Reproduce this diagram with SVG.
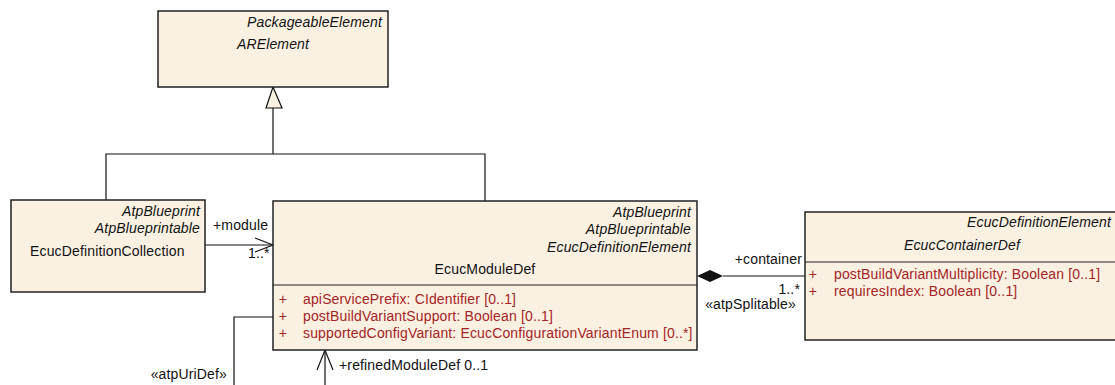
<svg xmlns="http://www.w3.org/2000/svg" width="1115" height="385" viewBox="0 0 1115 385">
<style>
.box{fill:#FBF1E3;stroke:#222;stroke-width:1.5}
.div{stroke:#222;stroke-width:1.2}
.ln{fill:none;stroke:#111;stroke-width:1.2}
text{font-family:"Liberation Sans",Arial,sans-serif;font-size:14px;fill:#111;letter-spacing:0.15px}
.it{font-style:italic}
.r{text-anchor:end}
.m{text-anchor:middle}
.attr{fill:#A52424}
</style>
<rect width="1115" height="385" fill="#fff"/>
<g id="connectors">
  <polyline class="ln" points="273,108 273,154"/>
  <polygon points="273,87 266,108 282,108" fill="#FBF1E3" stroke="#111" stroke-width="1.2"/>
  <polyline class="ln" points="106,200 106,154 485,154 485,201"/>
  <line class="ln" x1="205" y1="245" x2="273" y2="245"/>
  <polyline class="ln" points="255,238 273,245 255,252"/>
  <line class="ln" x1="723" y1="276" x2="805" y2="276"/>
  <polygon points="697,276 710,270 723,276 710,282" fill="#111"/>
  <polyline class="ln" points="273,317 234,317 234,386"/>
  <line class="ln" x1="325" y1="350" x2="325" y2="386"/>
  <polyline class="ln" points="317,370 325,350 333,370"/>
  <text x="213" y="230">+module</text>
  <text x="248" y="258">1..*</text>
  <text class="r" x="802" y="264">+container</text>
  <text class="r" x="800" y="294">1..*</text>
  <text class="r" x="796" y="309">«atpSplitable»</text>
  <text class="r" x="227" y="379">«atpUriDef»</text>
  <text x="339" y="370">+refinedModuleDef 0..1</text>
</g>
<g id="ARElement">
  <rect class="box" x="158" y="11" width="230" height="76"/>
  <text class="it r" x="382" y="27">PackageableElement</text>
  <text class="it m" x="273" y="49">ARElement</text>
</g>
<g id="EcucDefinitionCollection">
  <rect class="box" x="11" y="200" width="194" height="92"/>
  <text class="it r" x="200" y="216">AtpBlueprint</text>
  <text class="it r" x="200" y="233">AtpBlueprintable</text>
  <text x="30" y="256">EcucDefinitionCollection</text>
</g>
<g id="EcucModuleDef">
  <rect class="box" x="273" y="201" width="424" height="149"/>
  <line class="div" x1="273" y1="285" x2="697" y2="285"/>
  <text class="it r" x="691" y="217">AtpBlueprint</text>
  <text class="it r" x="691" y="234">AtpBlueprintable</text>
  <text class="it r" x="691" y="252">EcucDefinitionElement</text>
  <text class="m" x="485" y="274">EcucModuleDef</text>
  <text class="attr m" x="283" y="304">+</text>
  <text class="attr" x="303" y="304">apiServicePrefix: CIdentifier [0..1]</text>
  <text class="attr m" x="283" y="321">+</text>
  <text class="attr" x="303" y="321">postBuildVariantSupport: Boolean [0..1]</text>
  <text class="attr m" x="283" y="338">+</text>
  <text class="attr" x="303" y="338">supportedConfigVariant: EcucConfigurationVariantEnum [0..*]</text>
</g>
<g id="EcucContainerDef">
  <rect class="box" x="805" y="212" width="313" height="128"/>
  <line class="div" x1="805" y1="262" x2="1118" y2="262"/>
  <text class="it r" x="1111" y="227">EcucDefinitionElement</text>
  <text class="it m" x="962" y="250">EcucContainerDef</text>
  <text class="attr m" x="813" y="279">+</text>
  <text class="attr" x="834" y="279">postBuildVariantMultiplicity: Boolean [0..1]</text>
  <text class="attr m" x="813" y="296">+</text>
  <text class="attr" x="834" y="296">requiresIndex: Boolean [0..1]</text>
</g>
</svg>
